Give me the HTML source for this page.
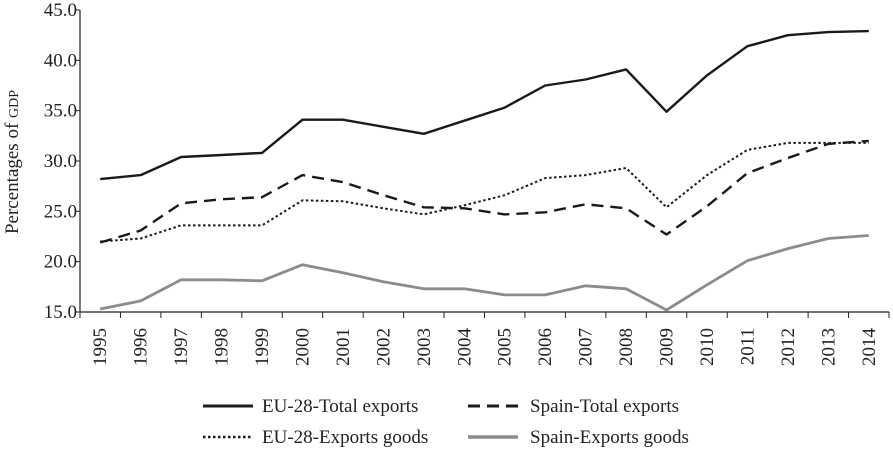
<!DOCTYPE html>
<html><head><meta charset="utf-8"><style>
html,body{margin:0;padding:0;background:#fff;}
svg{display:block;font-family:"Liberation Serif",serif;}
</style></head><body>
<svg id="chart" width="893" height="451" viewBox="0 0 893 451">
<g id="axes"></g><g id="series"></g><g id="legend"></g>
</svg>
<script>
const years = ['1995','1996','1997','1998','1999','2000','2001','2002','2003','2004','2005','2006','2007','2008','2009','2010','2011','2012','2013','2014'];
const euTotal = [28.2,28.6,30.4,30.6,30.8,34.1,34.1,33.4,32.7,34.0,35.3,37.5,38.1,39.1,34.9,38.5,41.4,42.5,42.8,42.9];
const spainTotal = [21.9,23.1,25.8,26.2,26.4,28.6,27.9,26.6,25.4,25.3,24.7,24.9,25.7,25.3,22.7,25.5,28.8,30.3,31.7,32.0];
const euGoods = [22.0,22.3,23.6,23.6,23.6,26.1,26.0,25.3,24.7,25.6,26.6,28.3,28.6,29.3,25.4,28.6,31.1,31.8,31.8,31.8];
const spainGoods = [15.3,16.1,18.2,18.2,18.1,19.7,18.9,18.0,17.3,17.3,16.7,16.7,17.6,17.3,15.2,17.7,20.1,21.3,22.3,22.6];
const yTicks = [15,20,25,30,35,40,45];

const NS='http://www.w3.org/2000/svg';
const X0=80,X1=889,Y0=312,Y1=10,YMIN=15,YMAX=45;
const bw=(X1-X0)/years.length;
function xs(i){return X0+bw*(i+0.5);}
function ys(v){return Y0-(v-YMIN)/(YMAX-YMIN)*(Y0-Y1);}
function mk(tag,attrs,parent){const e=document.createElementNS(NS,tag);for(const k in attrs)e.setAttribute(k,attrs[k]);parent.appendChild(e);return e;}
const axes=document.getElementById('axes'),ser=document.getElementById('series'),leg=document.getElementById('legend');

const ya=mk('line',{x1:X0,y1:Y1,x2:X0,y2:Y0,stroke:'#222','stroke-width':1.2},axes);


const xa=mk('line',{x1:X0,y1:Y0,x2:X1,y2:Y0,stroke:'#222','stroke-width':1.2},axes);


yTicks.forEach(v=>{
  const y=ys(v);
  mk('line',{x1:X0-5,y1:y,x2:X0,y2:y,stroke:'#222','stroke-width':1},axes);
  const t=mk('text',{x:X0-3,y:y+6,'text-anchor':'end','font-size':19,fill:'#222'},axes);
  t.textContent=v.toFixed(1);
  
  
});
for(let i=0;i<=years.length;i++){
  const x=X0+bw*i;
  mk('line',{x1:x,y1:Y0,x2:x,y2:Y0+6,stroke:'#222','stroke-width':1},axes);
}
years.forEach((yr,i)=>{
  const x=xs(i)+6;
  const t=mk('text',{x:x,y:328,transform:`rotate(-90 ${x} 328)`,'text-anchor':'end','font-size':19,fill:'#222'},axes);
  t.textContent=yr;
  
  
});
const yt=mk('text',{x:18,y:162,transform:'rotate(-90 18 162)','text-anchor':'middle','font-size':19,fill:'#222'},axes);
yt.innerHTML='Percentages of <tspan font-size="14">GDP</tspan>';



const styles=[
 {d:euTotal,stroke:'#1a1a1a',w:2.4,dash:'',name:'eu-total-exports-line',label:'EU-28-Total exports'},
 {d:spainTotal,stroke:'#1a1a1a',w:2.4,dash:'12 7',name:'spain-total-exports-line',label:'Spain-Total exports'},
 {d:euGoods,stroke:'#1a1a1a',w:2,dash:'2.5 2.5',name:'eu-exports-goods-line',label:'EU-28-Exports goods'},
 {d:spainGoods,stroke:'#8c8c8c',w:2.8,dash:'',name:'spain-exports-goods-line',label:'Spain-Exports goods'}
];
styles.forEach(s=>{
  const pts=s.d.map((v,i)=>xs(i).toFixed(1)+','+ys(v).toFixed(1)).join(' ');
  const p=mk('polyline',{points:pts,fill:'none',stroke:s.stroke,'stroke-width':s.w,'stroke-dasharray':s.dash,'stroke-linejoin':'round'},ser);
  
  
});
const lpos=[[203,406],[468,406],[203,437],[468,437]];
styles.forEach((s,i)=>{
  const [x,y]=lpos[i];
  const g=mk('g',{},leg);
  
  
  mk('line',{x1:x,y1:y,x2:x+50,y2:y,stroke:s.stroke,'stroke-width':s.w+0.6,'stroke-dasharray':s.dash},g);
  const t=mk('text',{x:x+(i%2?62:59),y:y+6,'font-size':19,fill:'#222'},g);
  t.textContent=s.label;
});
</script>
</body></html>
